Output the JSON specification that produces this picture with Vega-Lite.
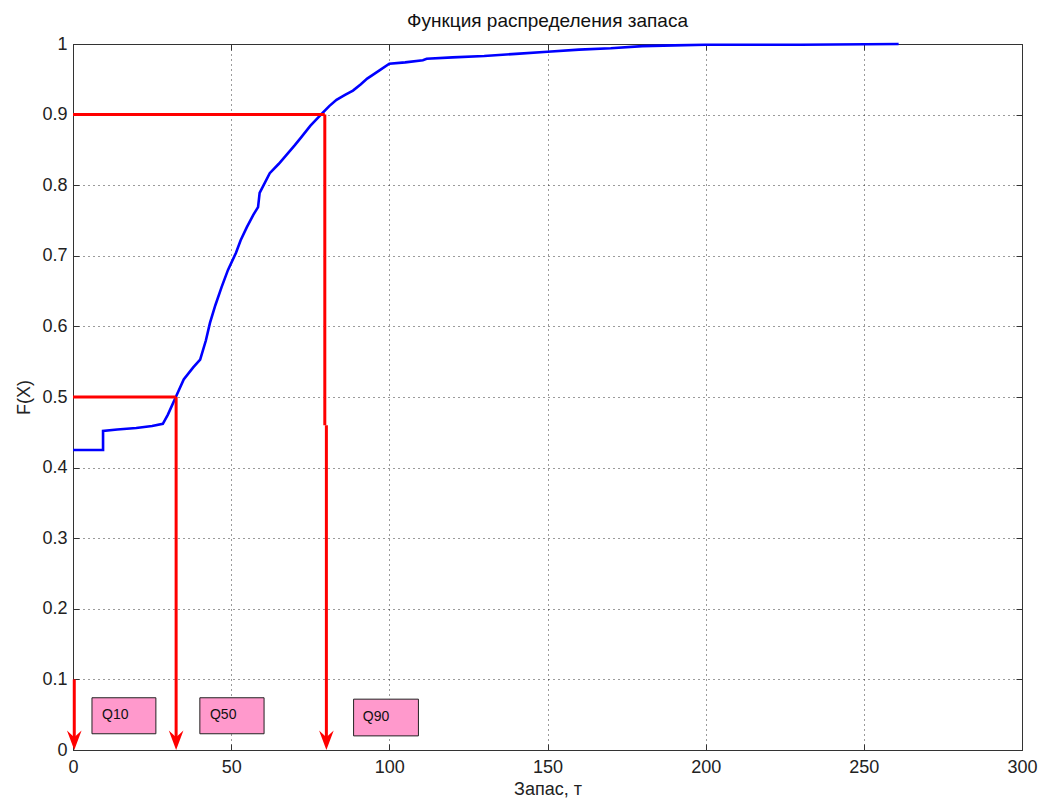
{
  "$schema": "https://vega.github.io/schema/vega-lite/v6.json",
  "width": 949,
  "height": 706,
  "autosize": {"type": "none"},
  "padding": {"left": 73, "top": 44, "right": 21, "bottom": 53},
  "background": "white",
  "config": {
    "font": "Liberation Sans",
    "view": {"stroke": null},
    "axis": {
      "domainColor": "#333",
      "domainWidth": 1,
      "tickColor": "#333",
      "tickSize": -6,
      "labelColor": "#222",
      "labelFont": "Liberation Sans",
      "labelFontSize": 18,
      "titleFont": "Liberation Sans",
      "titleFontSize": 18,
      "titleFontWeight": "normal",
      "titleColor": "#222",
      "gridColor": "#222",
      "gridDash": [1, 4],
      "gridOpacity": 0.9,
      "gridWidth": 1
    }
  },
  "title": {
    "text": "Функция распределения запаса",
    "fontSize": 19,
    "fontWeight": "normal",
    "font": "Liberation Sans",
    "color": "#111",
    "anchor": "middle",
    "baseline": "alphabetic",
    "offset": -11
  },
  "datasets": {
    "cdf": [
      {"x": 0, "F": 0.425}, {"x": 9.5, "F": 0.425}, {"x": 9.5, "F": 0.452},
      {"x": 14, "F": 0.454}, {"x": 20, "F": 0.456}, {"x": 25, "F": 0.459},
      {"x": 28.4, "F": 0.462}, {"x": 30, "F": 0.475}, {"x": 32.5, "F": 0.5},
      {"x": 35, "F": 0.525}, {"x": 38, "F": 0.542}, {"x": 40.2, "F": 0.553},
      {"x": 42, "F": 0.58}, {"x": 43.3, "F": 0.605}, {"x": 45, "F": 0.63},
      {"x": 47, "F": 0.656}, {"x": 49, "F": 0.68}, {"x": 51.5, "F": 0.704},
      {"x": 53, "F": 0.722}, {"x": 55, "F": 0.741}, {"x": 57, "F": 0.758},
      {"x": 58.5, "F": 0.769}, {"x": 59, "F": 0.789}, {"x": 62.2, "F": 0.817},
      {"x": 65, "F": 0.83}, {"x": 67.5, "F": 0.843}, {"x": 70, "F": 0.856},
      {"x": 72, "F": 0.867}, {"x": 75, "F": 0.884}, {"x": 78.6, "F": 0.901},
      {"x": 81, "F": 0.912}, {"x": 83.3, "F": 0.921}, {"x": 86, "F": 0.928},
      {"x": 88.5, "F": 0.934}, {"x": 91, "F": 0.943}, {"x": 93, "F": 0.951},
      {"x": 95, "F": 0.957}, {"x": 97, "F": 0.963}, {"x": 100, "F": 0.972},
      {"x": 105, "F": 0.974}, {"x": 110.6, "F": 0.977}, {"x": 111.8, "F": 0.979},
      {"x": 120, "F": 0.981}, {"x": 130, "F": 0.983}, {"x": 140, "F": 0.986},
      {"x": 150, "F": 0.989}, {"x": 160, "F": 0.992}, {"x": 170, "F": 0.994},
      {"x": 180, "F": 0.997}, {"x": 190, "F": 0.998}, {"x": 200, "F": 0.999},
      {"x": 230, "F": 0.999}, {"x": 261, "F": 1.0}
    ],
    "quantileLines": [
      {"q": "Q90", "x": 0, "x2": 79.6, "y": 0.9, "y2": 0.9},
      {"q": "Q90", "x": 79.6, "x2": 79.6, "y": 0.9, "y2": 0.46},
      {"q": "Q90", "x": 80.1, "x2": 80.1, "y": 0.46, "y2": 0.01},
      {"q": "Q50", "x": 0, "x2": 32.6, "y": 0.5, "y2": 0.5},
      {"q": "Q50", "x": 32.6, "x2": 32.6, "y": 0.5, "y2": 0.01},
      {"q": "Q10", "x": 0.4, "x2": 0.4, "y": 0.1, "y2": 0.01}
    ],
    "arrows": [
      {"q": "Q10", "x": 0.4, "F": 0},
      {"q": "Q50", "x": 32.6, "F": 0},
      {"q": "Q90", "x": 80.1, "F": 0}
    ],
    "labels": [
      {"q": "Q10", "x1": 6.0, "x2": 26.2, "y1": 0.023, "y2": 0.074, "tx": 9.2, "ty": 0.05},
      {"q": "Q50", "x1": 40.1, "x2": 60.4, "y1": 0.023, "y2": 0.074, "tx": 43.3, "ty": 0.05},
      {"q": "Q90", "x1": 88.7, "x2": 109.2, "y1": 0.02, "y2": 0.072, "tx": 91.6, "ty": 0.047}
    ]
  },
  "resolve": {"axis": {"x": "independent", "y": "independent"}},
  "layer": [
    {
      "data": {"name": "cdf"},
      "mark": {"type": "line", "color": "#0000FF", "strokeWidth": 2.6, "interpolate": "linear"},
      "encoding": {
        "x": {
          "field": "x", "type": "quantitative",
          "scale": {"domain": [0, 300], "nice": false, "zero": false},
          "axis": {
            "title": "Запас, т", "values": [0, 50, 100, 150, 200, 250, 300],
            "grid": true, "labelPadding": 14, "titlePadding": 4, "labelFlush": false
          }
        },
        "y": {
          "field": "F", "type": "quantitative",
          "scale": {"domain": [0, 1], "nice": false, "zero": false},
          "axis": {
            "title": "F(X)", "values": [0, 0.1, 0.2, 0.3, 0.4, 0.5, 0.6, 0.7, 0.8, 0.9, 1],
            "format": "~g", "grid": true, "labelPadding": 12, "titlePadding": 8, "labelFlush": false
          }
        }
      }
    },
    {
      "data": {"name": "quantileLines"},
      "mark": {"type": "rule", "color": "#FF0000", "strokeWidth": 3},
      "encoding": {
        "x": {"field": "x", "type": "quantitative", "axis": null},
        "x2": {"field": "x2"},
        "y": {"field": "y", "type": "quantitative", "axis": null},
        "y2": {"field": "y2"}
      }
    },
    {
      "data": {"name": "arrows"},
      "mark": {
        "type": "point",
        "shape": "M0,0L-0.75,-2L0,-1.3L0.75,-2Z",
        "filled": true,
        "color": "#FF0000",
        "opacity": 1,
        "size": 380
      },
      "encoding": {
        "x": {"field": "x", "type": "quantitative", "axis": null},
        "y": {"field": "F", "type": "quantitative", "axis": null}
      }
    },
    {
      "data": {"name": "labels"},
      "mark": {"type": "rect", "fill": "#FF99CC", "stroke": "#222", "strokeWidth": 1},
      "encoding": {
        "x": {"field": "x1", "type": "quantitative", "axis": null},
        "x2": {"field": "x2"},
        "y": {"field": "y1", "type": "quantitative", "axis": null},
        "y2": {"field": "y2"}
      }
    },
    {
      "data": {"name": "labels"},
      "mark": {"type": "text", "align": "left", "baseline": "middle", "fontSize": 14, "font": "Liberation Sans", "color": "#111"},
      "encoding": {
        "x": {"field": "tx", "type": "quantitative", "axis": null},
        "y": {"field": "ty", "type": "quantitative", "axis": null},
        "text": {"field": "q"}
      }
    },
    {
      "data": {"name": "cdf"},
      "mark": {"type": "line", "opacity": 0},
      "encoding": {
        "x": {
          "field": "x", "type": "quantitative",
          "axis": {"orient": "top", "labels": false, "title": null, "grid": false, "values": [0, 50, 100, 150, 200, 250, 300]}
        },
        "y": {
          "field": "F", "type": "quantitative",
          "axis": {"orient": "right", "labels": false, "title": null, "grid": false, "values": [0, 0.1, 0.2, 0.3, 0.4, 0.5, 0.6, 0.7, 0.8, 0.9, 1]}
        }
      }
    }
  ]
}
